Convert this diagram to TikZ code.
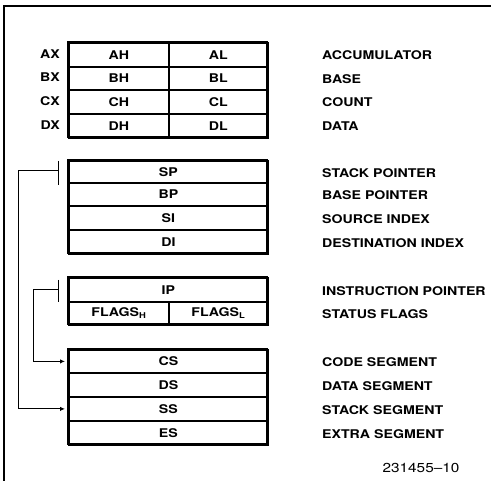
\documentclass[tikz,border=0pt]{standalone}
\usepackage{fontspec}
\setmainfont[FakeStretch=1.18]{TeX Gyre Heros}
\usetikzlibrary{arrows.meta}
\begin{document}
\begin{tikzpicture}[x=1pt,y=-1pt,
  txt/.style={font=\fontsize{12}{14}\selectfont\bfseries, inner sep=0pt},
  cell/.style={draw, line width=1.8pt, inner sep=0pt, anchor=north west, txt},
  outer/.style={draw, line width=2.3pt},
  conn/.style={line width=1pt},
  arr/.style={conn, -{Latex[length=5pt,width=4.5pt]}, shorten >=3pt},
  desc/.style={txt, anchor=west},
  reg/.style={txt, anchor=east}]
\useasboundingbox (0,0) rectangle (491,481);
% frame (top and left edges only visible)
\draw[line width=1.5pt] (491,6) -- (4,6) -- (4,481);

% ---- block 1: general registers
\foreach \n/\y/\h/\hh/\l/\r/\d in {A/42/24/AH/AL/AX/ACCUMULATOR, B/66/23/BH/BL/BX/BASE, C/89/24/CH/CL/CX/COUNT, D/113/24/DH/DL/DX/DATA}{
  \node[cell, minimum width=100pt, minimum height=\h pt] (\n H) at (68,\y) {\hh};
  \node[cell, minimum width=99pt, minimum height=\h pt] (\n L) at (168,\y) {\l};
  \node[reg] (\n X) at (60,\y+\h/2) {\r};
  \node[desc] (\n D) at (322,\y+\h/2+1.5) {\d};
}
\draw[outer] (68,42) rectangle (267,137);

% ---- block 2: pointer & index
\foreach \n/\y/\h/\d in {SP/160/22/STACK POINTER, BP/182/23/BASE POINTER, SI/205/24/SOURCE INDEX, DI/229/24/DESTINATION INDEX}{
  \node[cell, minimum width=199pt, minimum height=\h pt] (\n) at (68,\y) {\n};
  \node[desc] (\n D) at (322,\y+\h/2+2) {\d};
}
\draw[outer] (68,160) rectangle (267,253);

% ---- block 3: IP & flags
\node[cell, minimum width=199pt, minimum height=24pt] (IP) at (68,277) {IP};
\node[cell, minimum width=100pt, minimum height=23pt] (FH) at (68,301) {FLAGS\textsubscript{H}};
\node[cell, minimum width=99pt, minimum height=23pt] (FL) at (168,301) {FLAGS\textsubscript{L}};
\draw[outer] (68,277) rectangle (267,324);
\node[desc] (IPD) at (322,291) {INSTRUCTION POINTER};
\node[desc] (FD) at (322,314.5) {STATUS FLAGS};

% ---- block 4: segment registers
\foreach \n/\y/\h/\d in {CS/349/23/CODE SEGMENT, DS/372/24/DATA SEGMENT, SS/396/24/STACK SEGMENT, ES/420/24/EXTRA SEGMENT}{
  \node[cell, minimum width=199pt, minimum height=\h pt] (\n) at (68,\y) {\n};
  \node[desc] (\n D) at (322,\y+\h/2+2) {\d};
}
\draw[outer] (68,349) rectangle (267,444);

% ---- connectors
\coordinate (spb) at (58,171);
\coordinate (ipb) at (58,290);
\coordinate (spx) at (18,0);
\coordinate (ipx) at (33,0);
\draw[conn] (58,161) -- (58,185);
\draw[conn] (58,280) -- (58,302);
\draw[arr] (spb) -- (spb -| spx) -- (spx |- SS.west) -- (SS.west);
\draw[arr] (ipb) -- (ipb -| ipx) -- (ipx |- CS.west) -- (CS.west);

% figure number
\node[font=\fontsize{13}{15}\selectfont, inner sep=0pt] (num) at (421,468) {231455--10};
\end{tikzpicture}
\end{document}
